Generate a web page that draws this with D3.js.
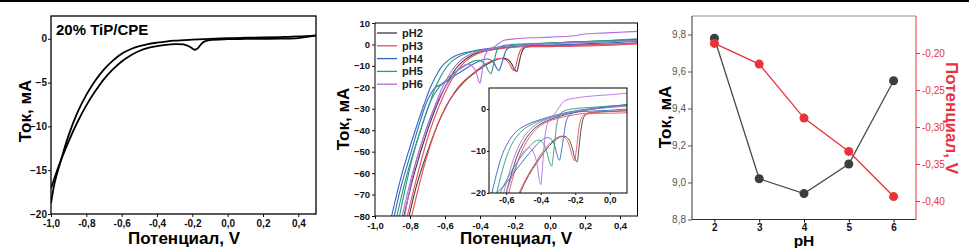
<!DOCTYPE html>
<html><head><meta charset="utf-8">
<script src="https://cdn.jsdelivr.net/npm/d3@7"></script>
<style>
html,body{margin:0;padding:0;background:#fff;}
svg{display:block;font-family:Arial,"Liberation Sans",sans-serif;}
</style></head><body>
<svg id="fig" width="969" height="248"></svg>
<script>
// ---- panel 1 : 20% TiP/CPE, two branches of the CV
const tipUpper=[[-1.0,-18.8],[-0.98,-16.5],[-0.95,-14.3],[-0.9,-11.0],[-0.85,-8.4],[-0.8,-6.4],[-0.75,-4.8],[-0.7,-3.5],[-0.65,-2.5],[-0.6,-1.7],[-0.55,-1.2],[-0.5,-0.85],[-0.45,-0.6],[-0.4,-0.45],[-0.35,-0.32],[-0.3,-0.22],[-0.2,-0.1],[-0.1,0.0],[0,0.08],[0.1,0.12],[0.2,0.15],[0.3,0.2],[0.4,0.27],[0.5,0.4]];
const tipLower=[[-1.0,-17.1],[-0.97,-15.3],[-0.95,-14.2],[-0.9,-11.7],[-0.85,-9.5],[-0.8,-7.6],[-0.75,-6.0],[-0.7,-4.6],[-0.65,-3.5],[-0.6,-2.6],[-0.55,-1.9],[-0.5,-1.4],[-0.45,-1.05],[-0.4,-0.85],[-0.35,-0.7],[-0.3,-0.62],[-0.25,-0.65],[-0.22,-0.85],[-0.2,-1.1],[-0.185,-1.25],[-0.17,-1.1],[-0.15,-0.6],[-0.13,-0.3],[-0.1,-0.15],[0,-0.05],[0.1,-0.02],[0.2,0.0],[0.3,0.02],[0.4,0.08],[0.5,0.35]];

// ---- panel 2 : CVs at different pH (cathodic branch with peak, return branch)
const ph2Fwd=[[0.5,0.6],[0.3,0.0],[0.1,-0.4],[0.0,-0.6],[-0.1,-0.8],[-0.13,-1.1],[-0.15,-1.9],[-0.165,-4.5],[-0.178,-9],[-0.19,-12.6],[-0.203,-11.6],[-0.218,-9.2],[-0.235,-7.4],[-0.26,-6.5],[-0.29,-6.7],[-0.33,-7.9],[-0.37,-9.7],[-0.42,-12.6],[-0.47,-15.8],[-0.52,-20],[-0.57,-25.5],[-0.63,-35],[-0.7,-50],[-0.76,-65],[-0.805,-80]];
const ph2Rev=[[-0.835,-80],[-0.775,-60],[-0.7,-40],[-0.645,-28],[-0.6,-20],[-0.57,-15.5],[-0.535,-11],[-0.5,-8],[-0.46,-5.6],[-0.41,-3.8],[-0.35,-2.6],[-0.28,-1.6],[-0.18,-0.6],[-0.05,0.3],[0.1,1.0],[0.3,1.6],[0.5,2.3]];
const ph3Fwd=[[0.5,0.2],[0.3,-0.5],[0.1,-0.9],[0.0,-1.0],[-0.1,-1.1],[-0.15,-1.4],[-0.165,-2.2],[-0.18,-5],[-0.193,-9.5],[-0.205,-12.3],[-0.217,-11.3],[-0.232,-9],[-0.25,-7.3],[-0.275,-6.5],[-0.3,-6.7],[-0.34,-7.9],[-0.38,-9.7],[-0.43,-12.8],[-0.48,-16.2],[-0.53,-20.5],[-0.58,-27],[-0.64,-37],[-0.71,-54],[-0.79,-80]];
const ph3Rev=[[-0.815,-80],[-0.755,-60],[-0.685,-40],[-0.63,-28],[-0.585,-20],[-0.555,-15.5],[-0.52,-11],[-0.485,-8],[-0.445,-5.6],[-0.4,-3.9],[-0.34,-2.7],[-0.26,-1.8],[-0.16,-1.1],[-0.05,-0.7],[0.1,-0.4],[0.3,0.0],[0.5,0.6]];
const ph4Fwd=[[0.5,1.4],[0.3,0.6],[0.1,0.0],[0.0,-0.3],[-0.1,-0.5],[-0.2,-0.8],[-0.23,-1.3],[-0.25,-2.6],[-0.265,-6],[-0.28,-10],[-0.292,-12.2],[-0.305,-11],[-0.32,-8.7],[-0.34,-7.2],[-0.36,-6.8],[-0.39,-7.3],[-0.43,-8.8],[-0.48,-11.2],[-0.53,-13.8],[-0.58,-16.5],[-0.62,-18.6],[-0.655,-20],[-0.7,-26],[-0.75,-38],[-0.8,-52],[-0.85,-66],[-0.89,-80]];
const ph4Rev=[[-0.905,-80],[-0.845,-60],[-0.77,-40],[-0.72,-28],[-0.683,-20],[-0.65,-14.5],[-0.62,-10.5],[-0.58,-7.3],[-0.54,-5.3],[-0.49,-3.9],[-0.43,-2.9],[-0.36,-2.0],[-0.28,-1.1],[-0.18,-0.3],[-0.05,0.4],[0.1,1.0],[0.3,1.6],[0.5,2.2]];
const ph5Fwd=[[0.5,2.6],[0.3,1.7],[0.1,1.0],[0.0,0.7],[-0.1,0.4],[-0.2,0.1],[-0.26,-0.4],[-0.29,-1.3],[-0.305,-3.2],[-0.318,-7.5],[-0.33,-12],[-0.337,-13.6],[-0.35,-12.6],[-0.365,-10.2],[-0.385,-8.2],[-0.41,-7.4],[-0.44,-7.9],[-0.48,-9.6],[-0.53,-12.3],[-0.58,-15.5],[-0.615,-18.3],[-0.635,-20],[-0.68,-26],[-0.73,-37.5],[-0.79,-54],[-0.86,-80]];
const ph5Rev=[[-0.875,-80],[-0.815,-60],[-0.74,-40],[-0.69,-28],[-0.655,-20],[-0.625,-15],[-0.595,-11],[-0.56,-7.8],[-0.52,-5.6],[-0.47,-4.0],[-0.41,-2.9],[-0.34,-2.0],[-0.26,-1.2],[-0.16,-0.4],[-0.05,0.2],[0.1,0.7],[0.3,1.3],[0.5,1.9]];
const ph6Fwd=[[0.5,6.1],[0.4,5.7],[0.3,5.3],[0.2,4.9],[0.15,4.2],[0.1,3.8],[0.0,3.4],[-0.1,3.1],[-0.2,2.6],[-0.26,2.0],[-0.28,1.2],[-0.3,0.0],[-0.32,-1.2],[-0.345,-2.2],[-0.365,-4],[-0.38,-8.5],[-0.392,-15],[-0.4,-18],[-0.408,-17],[-0.42,-13.5],[-0.44,-10.5],[-0.465,-9.2],[-0.5,-10.2],[-0.54,-13.2],[-0.575,-17],[-0.6,-20],[-0.64,-26],[-0.7,-38],[-0.77,-56],[-0.83,-80]];
const ph6Rev=[[-0.845,-80],[-0.785,-60],[-0.71,-40],[-0.655,-28],[-0.615,-20],[-0.585,-15.5],[-0.55,-11],[-0.515,-7.8],[-0.47,-5.2],[-0.42,-3.5],[-0.36,-2.4],[-0.3,-1.5],[-0.2,-0.6],[-0.1,0.0],[0.0,0.4],[0.1,0.8],[0.3,1.3],[0.5,1.8]];
const phNames=["pH2","pH3","pH4","pH5","pH6"];

// ---- panel 3 : peak current / potential vs pH
const phValues=[2,3,4,5,6];
const peakCurrent=[9.78,9.02,8.94,9.10,9.55];
const peakPotential=[-0.187,-0.215,-0.288,-0.333,-0.394];

// tick values
const cvTicksX=[-1.0,-0.8,-0.6,-0.4,-0.2,0.0,0.2,0.4];
const tipTicksY=[0,-5,-10,-15,-20];
const phTicksY=[10,0,-10,-20,-30,-40,-50,-60,-70,-80];
const insetTicksX=[-0.6,-0.4,-0.2,0.0];
const insetTicksY=[0,-10,-20];
const currentTicks=[8.8,9.0,9.2,9.4,9.6,9.8];
const potentialTicks=[-0.40,-0.35,-0.30,-0.25,-0.20];

const phColors=["#3d3d3d","#e8505a","#3567c2","#2b9b7c","#b46ee0"];
const red="#e8333a";

const svg=d3.select("#fig");
const comma=f=>d=>d3.format(f)(d).replace(".",",").replace("\u2212","-");

svg.append("rect").attr("x",0).attr("y",0).attr("width",969).attr("height",2).attr("fill","#000");

function styleAxis(g,size,weight,color){
  g.select(".domain").remove();
  g.selectAll(".tick line").attr("stroke",color);
  g.selectAll(".tick text").attr("fill",color).attr("font-size",size).attr("font-weight",weight).attr("font-family",null);
}
function frame(x0,x1,y0,y1,w){
  svg.append("rect").attr("x",x0).attr("y",y0).attr("width",x1-x0).attr("height",y1-y0)
    .attr("fill","none").attr("stroke","#000").attr("stroke-width",w);
}
function clip(id,x0,x1,y0,y1){
  svg.append("clipPath").attr("id",id).append("rect")
    .attr("x",x0).attr("y",y0).attr("width",x1-x0).attr("height",y1-y0);
}

// ================= panel 1
const x1=d3.scaleLinear().domain([-1,0.5]).range([51,316]);
const y1=d3.scaleLinear().domain([-20,2.6]).range([214,16]);
clip("c1",51,316,16,214);
const line1=d3.line().x(d=>x1(d[0])).y(d=>y1(d[1])).curve(d3.curveCatmullRom.alpha(0.5));
const g1=svg.append("g").attr("clip-path","url(#c1)");
[tipUpper,tipLower].forEach(b=>g1.append("path").attr("d",line1(b)).attr("fill","none").attr("stroke","#000").attr("stroke-width",1.8));
frame(51,316,16,214,1.3);
svg.append("g").attr("transform","translate(0,214)")
  .call(d3.axisBottom(x1).tickValues(cvTicksX).tickSize(3).tickPadding(3).tickFormat(comma(".1f")))
  .call(g=>styleAxis(g,10,"bold","#111"));
svg.append("g").attr("transform","translate(51,0)")
  .call(d3.axisLeft(y1).tickValues(tipTicksY).tickSize(3).tickPadding(1).tickFormat(d3.format("d")))
  .call(g=>styleAxis(g,10,"bold","#111"));
svg.append("text").attr("x",56).attr("y",35).attr("font-size",15).attr("font-weight","bold").text("20% TiP/CPE");
svg.append("text").attr("transform","translate(31,111) rotate(-90)").attr("text-anchor","middle")
  .attr("font-size",17).attr("font-weight","bold").text("Ток, мА");
svg.append("text").attr("x",184).attr("y",244).attr("text-anchor","middle")
  .attr("font-size",17).attr("font-weight","bold").text("Потенциал, V");

// ================= panel 2
const cvSets=[[ph2Fwd,ph2Rev],[ph3Fwd,ph3Rev],[ph4Fwd,ph4Rev],[ph5Fwd,ph5Rev],[ph6Fwd,ph6Rev]];
const x2=d3.scaleLinear().domain([-1,0.5]).range([375,637.5]);
const y2=d3.scaleLinear().domain([-80,10]).range([216,23]);
clip("c2",375,637.5,23,216);
const line2=d3.line().x(d=>x2(d[0])).y(d=>y2(d[1])).curve(d3.curveCatmullRom.alpha(0.5));
const g2=svg.append("g").attr("clip-path","url(#c2)");
cvSets.forEach((s,i)=>s.forEach(b=>g2.append("path").attr("d",line2(b)).attr("fill","none")
  .attr("stroke",phColors[i]).attr("stroke-width",1.1)));
frame(375,637.5,23,216,1);
svg.append("g").attr("transform","translate(0,216)")
  .call(d3.axisBottom(x2).tickValues(cvTicksX).tickSize(3).tickPadding(3).tickFormat(comma(".1f")))
  .call(g=>styleAxis(g,9.5,"bold","#111"));
svg.append("g").attr("transform","translate(375,0)")
  .call(d3.axisLeft(y2).tickValues(phTicksY).tickSize(3).tickPadding(2).tickFormat(d3.format("d")))
  .call(g=>styleAxis(g,9.5,"bold","#111"));
svg.append("text").attr("transform","translate(349,119) rotate(-90)").attr("text-anchor","middle")
  .attr("font-size",17).attr("font-weight","bold").text("Ток, мА");
svg.append("text").attr("x",516).attr("y",244).attr("text-anchor","middle")
  .attr("font-size",17).attr("font-weight","bold").text("Потенциал, V");

// legend
const leg=svg.append("g");
phNames.forEach((n,i)=>{
  const yy=33+i*12.8;
  leg.append("line").attr("x1",377).attr("x2",397).attr("y1",yy).attr("y2",yy)
    .attr("stroke",phColors[i]).attr("stroke-width",1.3);
  leg.append("text").attr("x",402).attr("y",yy+4).attr("font-size",11).attr("font-weight","bold")
    .attr("fill","#222").text(n);
});

// inset
const xi=d3.scaleLinear().domain([-0.7,0.1]).range([489,627]);
const yi=d3.scaleLinear().domain([-20,5]).range([193,88]);
svg.append("rect").attr("x",489).attr("y",88).attr("width",138).attr("height",105).attr("fill","#fff");
clip("ci",489,627,88,193);
const lineI=d3.line().x(d=>xi(d[0])).y(d=>yi(d[1])).curve(d3.curveCatmullRom.alpha(0.5));
const gi=svg.append("g").attr("clip-path","url(#ci)");
cvSets.forEach((s,i)=>s.forEach(b=>gi.append("path").attr("d",lineI(b)).attr("fill","none")
  .attr("stroke",phColors[i]).attr("stroke-width",0.9)));
frame(489,627,88,193,1);
svg.append("g").attr("transform","translate(0,193)")
  .call(d3.axisBottom(xi).tickValues(insetTicksX).tickSize(2).tickPadding(2).tickFormat(comma(".1f")))
  .call(g=>styleAxis(g,9,"bold","#111"));
svg.append("g").attr("transform","translate(489,0)")
  .call(d3.axisLeft(yi).tickValues(insetTicksY).tickSize(2).tickPadding(1).tickFormat(d3.format("d")))
  .call(g=>styleAxis(g,9,"bold","#111"));

// ================= panel 3
const x3=d3.scaleLinear().domain([1.5,6.5]).range([692,916]);
const yL=d3.scaleLinear().domain([8.8,9.9]).range([219.5,16]);
const yR=d3.scaleLinear().domain([-0.425,-0.15]).range([219.5,16]);
svg.append("line").attr("x1",692).attr("x2",916).attr("y1",16).attr("y2",16).attr("stroke","#777").attr("stroke-width",0.8);
svg.append("line").attr("x1",692).attr("x2",692).attr("y1",16).attr("y2",219.5).attr("stroke","#333").attr("stroke-width",1);
svg.append("line").attr("x1",692).attr("x2",916).attr("y1",219.5).attr("y2",219.5).attr("stroke","#333").attr("stroke-width",1);
svg.append("line").attr("x1",916).attr("x2",916).attr("y1",16).attr("y2",219.5).attr("stroke",red).attr("stroke-width",1);
svg.append("g").attr("transform","translate(0,219.5)")
  .call(d3.axisBottom(x3).tickValues(phValues).tickSize(3).tickPadding(1).tickFormat(d3.format("d")))
  .call(g=>styleAxis(g,10,"bold","#111"));
svg.append("g").attr("transform","translate(692,0)")
  .call(d3.axisLeft(yL).tickValues(currentTicks).tickSize(4).tickPadding(2).tickFormat(comma(".1f")))
  .call(g=>styleAxis(g,10,"normal","#555"));
svg.append("g").attr("transform","translate(916,0)")
  .call(d3.axisRight(yR).tickValues(potentialTicks).tickSize(4).tickPadding(2).tickFormat(comma(".2f")))
  .call(g=>styleAxis(g,10,"normal",red));

const curPts=phValues.map((p,i)=>[p,peakCurrent[i]]);
const potPts=phValues.map((p,i)=>[p,peakPotential[i]]);
svg.append("path").attr("d",d3.line().x(d=>x3(d[0])).y(d=>yL(d[1]))(curPts))
  .attr("fill","none").attr("stroke","#4a4a4a").attr("stroke-width",1.3);
svg.append("g").selectAll("circle").data(curPts).join("circle")
  .attr("cx",d=>x3(d[0])).attr("cy",d=>yL(d[1])).attr("r",4.5).attr("fill","#3d3d3d");
svg.append("path").attr("d",d3.line().x(d=>x3(d[0])).y(d=>yR(d[1]))(potPts))
  .attr("fill","none").attr("stroke",red).attr("stroke-width",1.3);
svg.append("g").selectAll("circle").data(potPts).join("circle")
  .attr("cx",d=>x3(d[0])).attr("cy",d=>yR(d[1])).attr("r",4.5).attr("fill",red);

svg.append("text").attr("transform","translate(671,117) rotate(-90)").attr("text-anchor","middle")
  .attr("font-size",17).attr("font-weight","bold").text("Ток, мА");
svg.append("text").attr("transform","translate(946,118) rotate(90)").attr("text-anchor","middle")
  .attr("font-size",17).attr("font-weight","bold").attr("fill",red).text("Потенциал, V");
svg.append("text").attr("x",804).attr("y",245.5).attr("text-anchor","middle")
  .attr("font-size",15.5).attr("font-weight","bold").text("pH");
</script>
</body></html>
